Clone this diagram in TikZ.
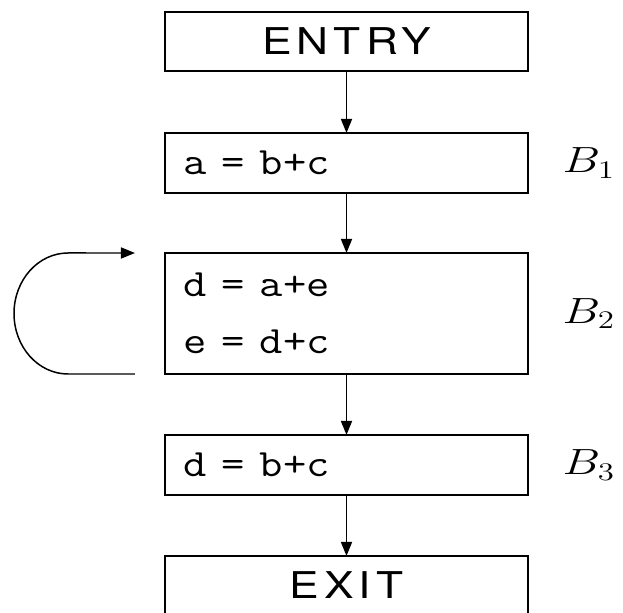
\documentclass[tikz,border=0pt]{standalone}
\IfFileExists{fix-cm.sty}{\usepackage{fix-cm}}{}
\usepackage{graphicx}
\usepackage{fontspec}
\newfontfamily\termfont[LetterSpace=14,FakeStretch=1.2]{TeX Gyre Heros}
\newcommand{\wide}[1]{\scalebox{1.17}[1]{#1}}
\usetikzlibrary{arrows.meta}
\tikzset{
	block/.style={draw,outer sep=0pt,inner xsep=0.36cm,inner ysep=0pt,text width=6.54cm,minimum width=7.26cm,align=left,font=\fontsize{22}{32.4}\selectfont\ttfamily},
	term/.style={block,minimum height=1.18cm,align=center,font=\fontsize{21}{25}\selectfont\termfont},
	blabel/.style={anchor=base west,inner sep=0pt,font=\fontsize{20.74}{25}\selectfont}
}
\begin{document}
\begin{tikzpicture}[line width=0.85pt,>={Triangle[length=0.28cm,width=0.22cm]},x=1cm,y=1cm]
				\useasboundingbox (0,0) rectangle (12.46,12.26);
				\clip (0,0) rectangle (12.46,12.26);
				\node[term] (entry) at (6.93,11.43) {ENTRY};
				\node[block,minimum height=1.2cm] (b1) at (6.93,9.00) {\wide{a = b+c}};
				\node[block,minimum height=2.42cm] (b2) at (6.93,5.99) {\wide{d = a+e}\\\wide{e = d+c}};
				\node[block,minimum height=1.2cm] (b3) at (6.93,2.96) {\wide{d = b+c}};
				\node[term] (exit) at (6.93,0.55) {EXIT};
				\node[blabel] (lb1) at ([xshift=0.68cm,yshift=-0.2cm]b1.east) {\scalebox{1.3}[1]{$B_1$}};
				\node[blabel] (lb2) at ([xshift=0.68cm,yshift=-0.2cm]b2.east) {\scalebox{1.3}[1]{$B_2$}};
				\node[blabel] (lb3) at ([xshift=0.68cm,yshift=-0.2cm]b3.east) {\scalebox{1.3}[1]{$B_3$}};
				\draw[->] (entry) -- (b1);
				\draw[->] (b1) -- (b2);
				\draw[->] (b2) -- (b3);
				\draw[->] (b3) -- (exit);
				% back edge of B2
				\draw[->] ([xshift=-0.6cm]b2.south west) -- ++(-1.34,0)
				arc[start angle=270,end angle=90,x radius=1.08,y radius=1.21]
				-- ([xshift=-0.6cm]b2.north west);
			\end{tikzpicture}
\end{document}
